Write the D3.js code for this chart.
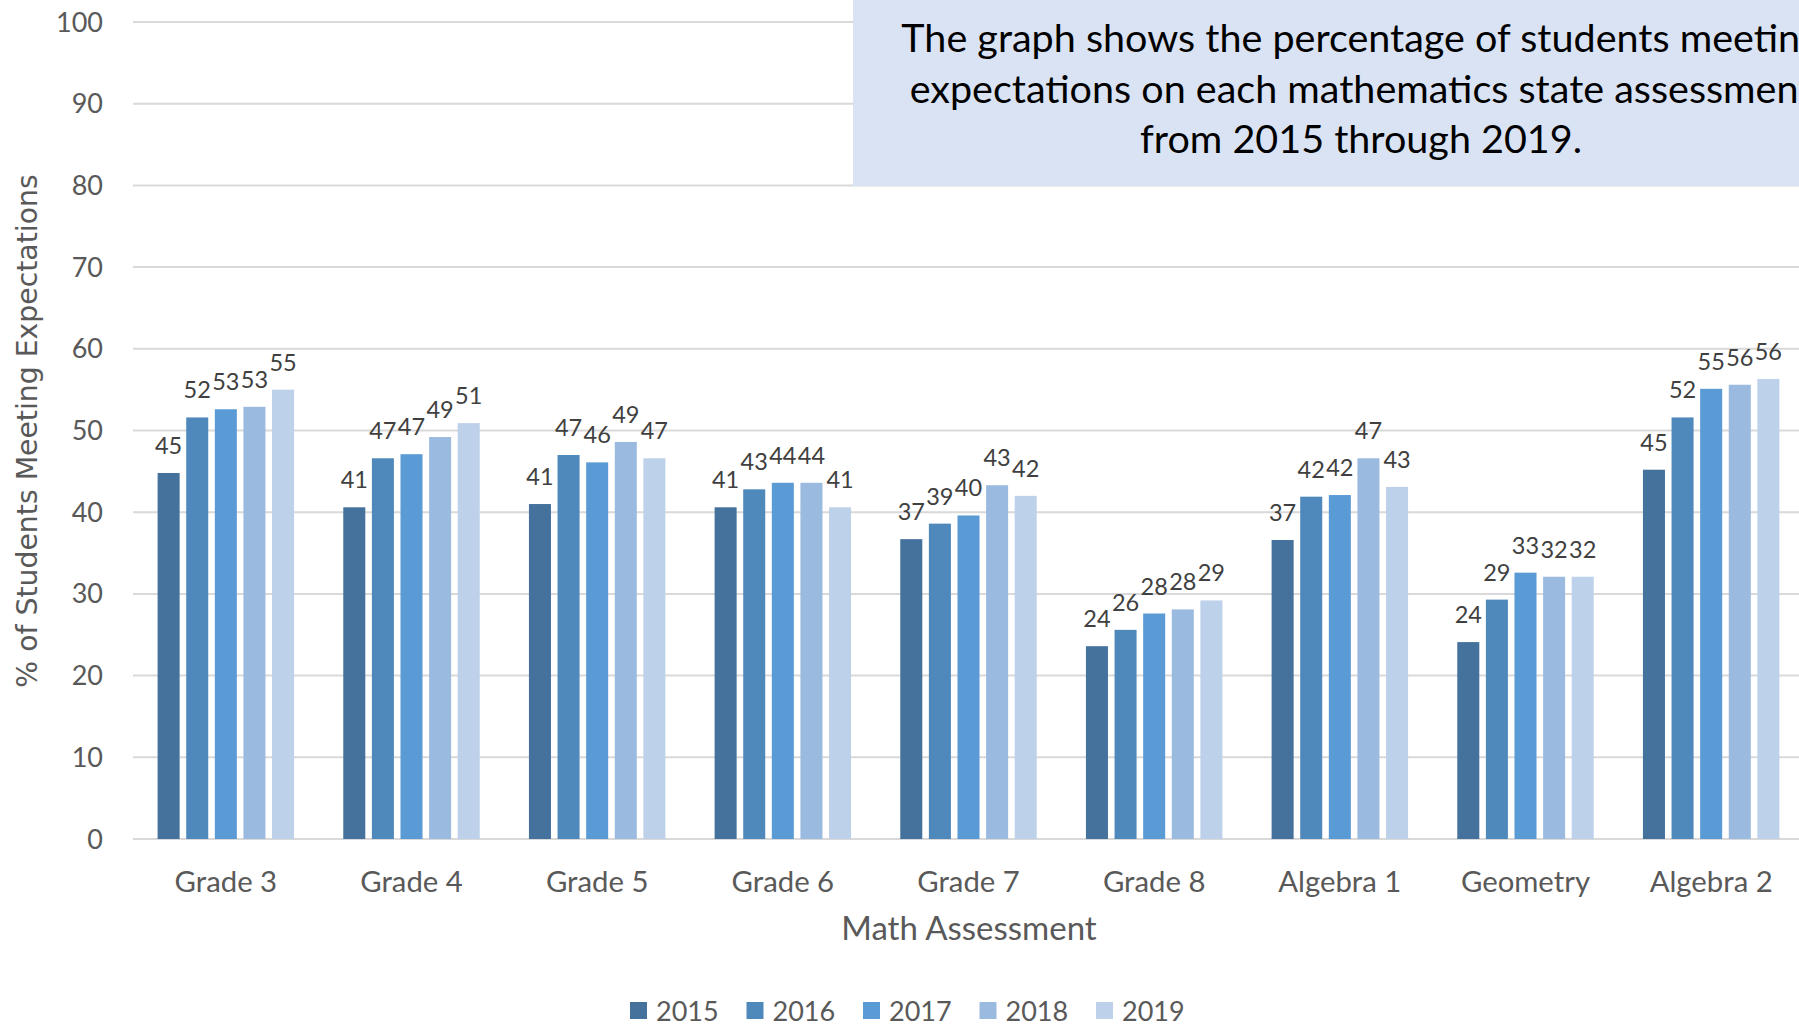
<!DOCTYPE html>
<html>
<head>
<meta charset="utf-8">
<script src="https://cdn.jsdelivr.net/npm/d3@7"></script>
<style>
  html, body { margin: 0; padding: 0; background: #fff; overflow: hidden; }
  svg { display: block; }
</style>
</head>
<body>
<svg id="chart" width="1799" height="1026"></svg>
<script>
const categories = ['Grade 3', 'Grade 4', 'Grade 5', 'Grade 6', 'Grade 7', 'Grade 8', 'Algebra 1', 'Geometry', 'Algebra 2'];
const years = ['2015', '2016', '2017', '2018', '2019'];

const v2015 = [44.8, 40.6, 41.0, 40.6, 36.7, 23.6, 36.6, 24.1, 45.2];
const v2016 = [51.6, 46.6, 47.0, 42.8, 38.6, 25.6, 41.9, 29.3, 51.6];
const v2017 = [52.6, 47.1, 46.1, 43.6, 39.6, 27.6, 42.1, 32.6, 55.1];
const v2018 = [52.9, 49.2, 48.6, 43.6, 43.3, 28.1, 46.6, 32.1, 55.6];
const v2019 = [55.0, 50.9, 46.6, 40.6, 42.0, 29.2, 43.1, 32.1, 56.3];

const yTicks = [0, 10, 20, 30, 40, 50, 60, 70, 80, 90, 100];
const noteLines = [
  'The graph shows the percentage of students meeting',
  'expectations on each mathematics state assessment',
  'from 2015 through 2019.'
];

const seriesValues = [v2015, v2016, v2017, v2018, v2019];
const colors = d3.scaleOrdinal()
  .domain(years)
  .range(['#44729d', '#4f89bc', '#5b9bd5', '#9bbae0', '#bdd1ea']);

const svg = d3.select('#chart');
const font = 'Lato, "Open Sans", sans-serif';

const x0 = d3.scaleBand().domain(categories).range([133, 1804]);
const x1 = d3.scaleBand().domain(years)
  .range([0, x0.bandwidth()])
  .paddingInner(0.23)
  .paddingOuter(0.86);
const y = d3.scaleLinear().domain([0, 100]).range([839, 22]);

// gridlines
svg.append('g')
  .selectAll('line')
  .data(yTicks)
  .join('line')
  .attr('x1', 133)
  .attr('x2', 1799)
  .attr('y1', d => y(d))
  .attr('y2', d => y(d))
  .attr('stroke', '#d9d9d9')
  .attr('stroke-width', 2);

// y tick labels
svg.append('g')
  .selectAll('text')
  .data(yTicks)
  .join('text')
  .attr('x', 103)
  .attr('y', d => y(d) + 9.5)
  .attr('text-anchor', 'end')
  .attr('font-family', font)
  .attr('font-size', 27)
  .attr('fill', '#595959')
  .text(d => d);

// bars
const rows = categories.map((c, i) => ({
  category: c,
  values: years.map((yr, j) => ({ year: yr, value: seriesValues[j][i] }))
}));

const groups = svg.append('g')
  .selectAll('g')
  .data(rows)
  .join('g')
  .attr('transform', d => `translate(${x0(d.category)},0)`);

groups.selectAll('rect')
  .data(d => d.values)
  .join('rect')
  .attr('x', d => x1(d.year))
  .attr('y', d => y(d.value))
  .attr('width', x1.bandwidth())
  .attr('height', d => y(0) - y(d.value))
  .attr('fill', d => colors(d.year));

const fmt = d3.format('.0f');
groups.selectAll('text')
  .data(d => d.values)
  .join('text')
  .attr('x', d => x1(d.year) + x1.bandwidth() / 2)
  .attr('y', d => y(d.value) - 19)
  .attr('text-anchor', 'middle')
  .attr('font-family', font)
  .attr('font-size', 23.5)
  .attr('fill', '#404040')
  .text(d => fmt(d.value));

// category labels
svg.append('g')
  .selectAll('text')
  .data(categories)
  .join('text')
  .attr('x', d => x0(d) + x0.bandwidth() / 2)
  .attr('y', 892)
  .attr('text-anchor', 'middle')
  .attr('font-family', font)
  .attr('font-size', 29.3)
  .attr('fill', '#595959')
  .text(d => d);

// axis titles
svg.append('text')
  .attr('x', 969)
  .attr('y', 940)
  .attr('text-anchor', 'middle')
  .attr('font-family', font)
  .attr('font-size', 33)
  .attr('fill', '#595959')
  .text('Math Assessment');

svg.append('text')
  .attr('transform', 'translate(27,431) rotate(-90)')
  .attr('text-anchor', 'middle')
  .attr('dominant-baseline', 'central')
  .attr('font-family', '"DejaVu Sans", sans-serif')
  .attr('font-size', 28.3)
  .attr('fill', '#595959')
  .text('% of Students Meeting Expectations');

// note box
svg.append('rect')
  .attr('x', 853)
  .attr('y', 0)
  .attr('width', 1016)
  .attr('height', 186)
  .attr('fill', '#dae3f3');

svg.append('g')
  .selectAll('text')
  .data(noteLines)
  .join('text')
  .attr('x', 1361)
  .attr('y', (d, i) => 52 + i * 50.5)
  .attr('text-anchor', 'middle')
  .attr('font-family', font)
  .attr('font-size', 39.5)
  .attr('fill', '#000')
  .text(d => d);

// legend
const legend = svg.append('g')
  .selectAll('g')
  .data(years)
  .join('g')
  .attr('transform', (d, i) => `translate(${630 + i * 116.5},1002)`);

legend.append('rect')
  .attr('width', 17)
  .attr('height', 17)
  .attr('fill', d => colors(d));

legend.append('text')
  .attr('x', 26)
  .attr('y', 19)
  .attr('font-family', font)
  .attr('font-size', 27)
  .attr('fill', '#595959')
  .text(d => d);
</script>
</body>
</html>
